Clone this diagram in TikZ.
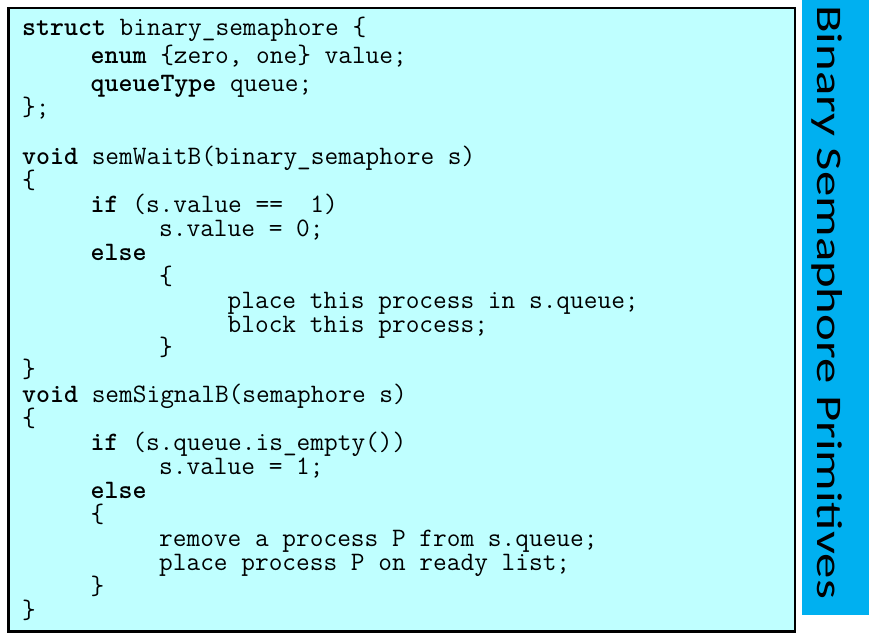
\documentclass[tikz,border=0pt]{standalone}
\usepackage{fontspec}
\newfontfamily\titlefont{Carlito}
\definecolor{codebg}{HTML}{BFFFFF}
\definecolor{titlebg}{HTML}{00B0F0}
\tikzset{
  codeline/.style={anchor=base west,inner sep=0pt,text height=15pt,text depth=4pt,
    font=\ttfamily\fontsize{26.6}{28}\selectfont},
}
\begin{document}
\begin{tikzpicture}[x=1pt,y=-1pt]
      \useasboundingbox (0,0) rectangle (869,638);
      \fill[codebg] (8.5,8) rectangle (795,631.5);
      \draw[line width=2.5pt] (8.5,8) rectangle (795,631.5);
      \fill[titlebg] (802,0) rectangle (869,615);
      \node[rotate=-90,xscale=1.41,anchor=base west,inner sep=0pt,font=\titlefont\fontsize{36}{40}\selectfont] (title) at (817,5) {Binary Semaphore Primitives};
      % struct
      \node[codeline] (struct) at (22,35) {\textbf{struct} binary\_semaphore \{};
      \node[codeline] (enum) at (90.5,63) {\textbf{enum} \{zero, one\} value;};
      \node[codeline] (qtype) at (90.5,91) {\textbf{queueType} queue;};
      \node[codeline] (sclose) at (22,115) {\};};
      % semWaitB
      \node[codeline] (wait) at (22,164) {\textbf{void} semWaitB(binary\_semaphore s)};
      \node[codeline] (wopen) at (22,188) {\{};
      \node[codeline] (wif) at (90.5,212) {\textbf{if} (s.value ==~~1)};
      \node[codeline] (wset) at (159,236) {s.value = 0;};
      \node[codeline] (welse) at (90.5,260) {\textbf{else}};
      \node[codeline] (wbopen) at (159,284) {\{};
      \node[codeline] (wplace) at (227.5,308) {place this process in s.queue;};
      \node[codeline] (wblock) at (227.5,332) {block this process;};
      \node[codeline] (wbclose) at (159,355) {\}};
      \node[codeline] (wclose) at (22,377) {\}};
      % semSignalB
      \node[codeline] (signal) at (22,402) {\textbf{void} semSignalB(semaphore s)};
      \node[codeline] (sopen) at (22,426) {\{};
      \node[codeline] (sif) at (90.5,450) {\textbf{if} (s.queue.is\_empty())};
      \node[codeline] (sset) at (159,474) {s.value = 1;};
      \node[codeline] (selse) at (90.5,498) {\textbf{else}};
      \node[codeline] (sbopen) at (90.5,522) {\{};
      \node[codeline] (sremove) at (159,546) {remove a process P from s.queue;};
      \node[codeline] (splace) at (159,570) {place process P on ready list;};
      \node[codeline] (sbclose) at (90.5,594) {\}};
      \node[codeline] (sclose2) at (22,618) {\}};
    \end{tikzpicture}
\end{document}
